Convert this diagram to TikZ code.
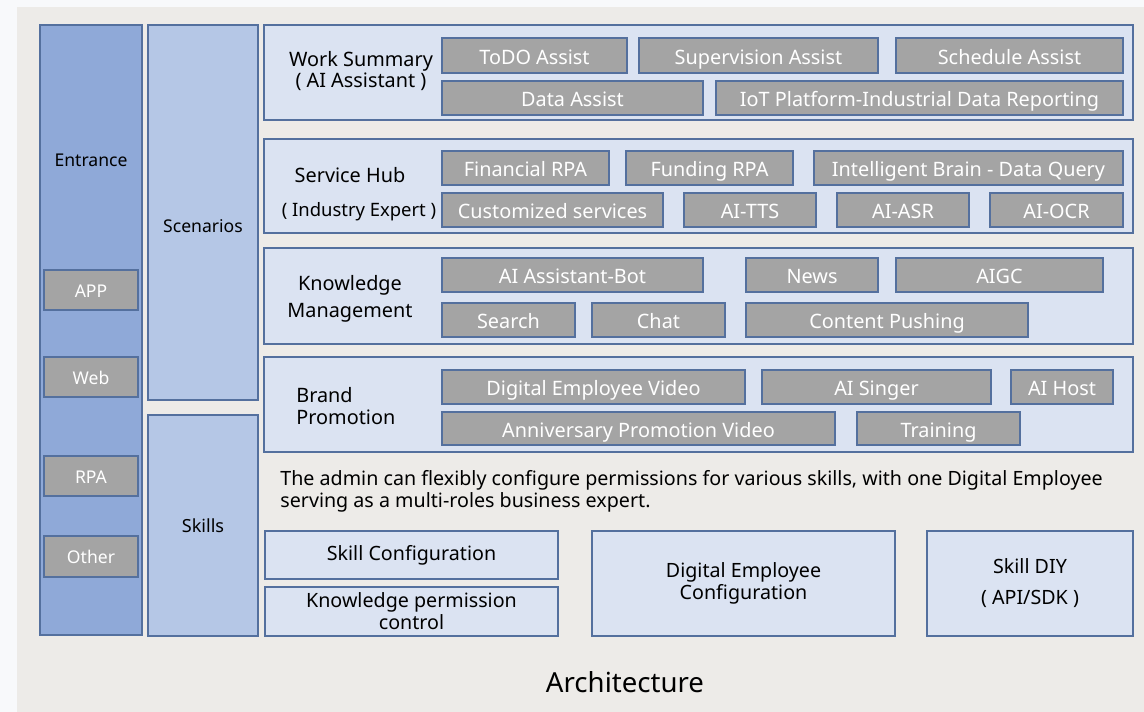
\documentclass[tikz,border=0pt]{standalone}
\usepackage{fontspec}
\setmainfont{Noto Sans}
\usetikzlibrary{positioning}
\definecolor{pagewhite}{RGB}{248, 249, 251}
\definecolor{canvasgray}{RGB}{237, 235, 232}
\definecolor{entryblue}{RGB}{143, 169, 216}
\definecolor{layerblue}{RGB}{181, 199, 230}
\definecolor{panelblue}{RGB}{219, 227, 242}
\definecolor{itemgray}{RGB}{164, 164, 164}
\definecolor{edgeblue}{RGB}{84, 112, 158}
% box from corner (x1,y1) to corner (x2,y2), in pixels
\newcommand{\archbox}[7]{%
  \node[#1, minimum width={(#5-#3)*0.02cm}, minimum height={(#6-#4)*0.02cm}]
    (#2) at ({(#3+#5)/2},{(#4+#6)/2}) {#7};}

\begin{document}
\begin{tikzpicture}[x=0.02cm, y=-0.02cm,
    column/.style={draw=edgeblue, line width=0.8pt, inner sep=0pt},
    panel/.style={draw=edgeblue, fill=panelblue, line width=0.8pt, inner sep=0pt,
                  font=\fontsize{11.2}{12.5}\selectfont, align=center},
    item/.style={draw=edgeblue, fill=itemgray, line width=0.8pt, inner sep=0pt,
                 text=white, font=\fontsize{11.3}{12}\selectfont,
                 text height=9.8pt, text depth=0pt},
    tag/.style={item, font=\fontsize{10}{12}\selectfont, text height=8pt},
    caption/.style={font=\fontsize{11.3}{12}\selectfont, align=center, inner sep=0pt}]
    % Canvas
    \useasboundingbox (0,0) rectangle (1144,712);
    \fill[pagewhite] (0,0) rectangle (1144,712);
    \fill[canvasgray] (17,7) rectangle (1144,712);

    % Entrance column
    \archbox{column, fill=entryblue}{entrance}{40}{25}{142}{635}{}
    \node[caption, font=\fontsize{10}{12}\selectfont] (entrancelbl) at (91,160) {Entrance};
    \archbox{tag}{app}{44}{270}{138}{310}{APP}
    \archbox{tag}{web}{44}{357}{138}{397}{Web}
    \archbox{tag}{rpa}{44}{456}{138}{496}{RPA}
    \archbox{tag}{other}{44}{536}{138}{577}{Other}

    % Scenarios and skills columns
    \archbox{column, fill=layerblue}{scenarios}{148}{25}{258}{400}{}
    \node[caption, font=\fontsize{10}{12}\selectfont] (scenarioslbl) at (203,226) {Scenarios};
    \archbox{column, fill=layerblue}{skills}{148}{415}{258}{636}{}
    \node[caption, font=\fontsize{10.3}{12}\selectfont] (skillslbl) at (203,526) {Skills};

    % Work summary
    \archbox{panel}{work}{264}{25}{1133}{120}{}
    \node[caption, font=\fontsize{11.3}{10.8}\selectfont] (worklbl) at (361,71) {Work Summary\\( AI Assistant )};
    \archbox{item}{todo}{442}{38}{627}{73}{ToDO Assist}
    \archbox{item}{supervision}{639}{38}{878}{73}{Supervision Assist}
    \archbox{item}{schedule}{896}{38}{1123}{73}{Schedule Assist}
    \archbox{item}{dataassist}{442}{81}{703}{115}{Data Assist}
    \archbox{item}{iot}{716}{81}{1123}{115}{IoT Platform-Industrial Data Reporting}

    % Service hub
    \archbox{panel}{hub}{264}{139}{1133}{233}{}
    \node[caption] (hublbl) at (350,175) {Service Hub};
    \node[caption, font=\fontsize{10.5}{12}\selectfont] (hubsub) at (359,212) {( Industry Expert )};
    \archbox{item}{finrpa}{442}{151}{609}{185}{Financial RPA}
    \archbox{item}{fundrpa}{626}{151}{793}{185}{Funding RPA}
    \archbox{item}{brain}{814}{151}{1123}{185}{Intelligent Brain - Data Query}
    \archbox{item}{custom}{442}{193}{663}{227}{Customized services}
    \archbox{item}{tts}{684}{193}{816}{227}{AI-TTS}
    \archbox{item}{asr}{837}{193}{969}{227}{AI-ASR}
    \archbox{item}{ocr}{990}{193}{1123}{227}{AI-OCR}

    % Knowledge management
    \archbox{panel}{knowledge}{264}{248}{1133}{344}{}
    \node[caption, font=\fontsize{11.3}{15.3}\selectfont] (knowledgelbl) at (350,299) {Knowledge\\Management};
    \archbox{item}{bot}{442}{258}{703}{292}{AI Assistant-Bot}
    \archbox{item}{news}{746}{258}{878}{292}{News}
    \archbox{item}{aigc}{896}{258}{1103}{292}{AIGC}
    \archbox{item}{search}{442}{303}{575}{337}{Search}
    \archbox{item}{chat}{592}{303}{725}{337}{Chat}
    \archbox{item}{pushing}{746}{303}{1028}{337}{Content Pushing}

    % Brand promotion
    \archbox{panel}{brand}{264}{357}{1133}{452}{}
    \node[caption, font=\fontsize{11.3}{13}\selectfont, align=left, anchor=west] (brandlbl) at (296,406) {Brand\\Promotion};
    \archbox{item}{devideo}{442}{370}{745}{404}{Digital Employee Video}
    \archbox{item}{singer}{762}{370}{991}{404}{AI Singer}
    \archbox{item}{host}{1011}{370}{1113}{404}{AI Host}
    \archbox{item}{anniv}{442}{412}{835}{445}{Anniversary Promotion Video}
    \archbox{item}{training}{857}{412}{1020}{445}{Training}

    % Admin note
    \node[caption, font=\fontsize{11.2}{12.5}\selectfont, align=left, anchor=west] (note) at (280,491)
        {The admin can flexibly configure permissions for various skills, with one Digital Employee\\serving as a multi-roles business expert.};

    % Configuration boxes
    \archbox{panel}{skillcfg}{265}{531}{558}{579}{Skill Configuration}
    \archbox{panel}{knowperm}{265}{587}{558}{636}{Knowledge permission\\control}
    \archbox{panel}{decfg}{592}{531}{895}{636}{Digital Employee\\Configuration}
    \archbox{panel, font=\fontsize{11.2}{17.6}\selectfont}{skilldiy}{927}{531}{1133}{636}{Skill DIY\\( API/SDK )}

    % Title
    \node[caption, font=\fontsize{15.7}{18}\selectfont] (title) at (625,682) {Architecture};
\end{tikzpicture}
\end{document}
